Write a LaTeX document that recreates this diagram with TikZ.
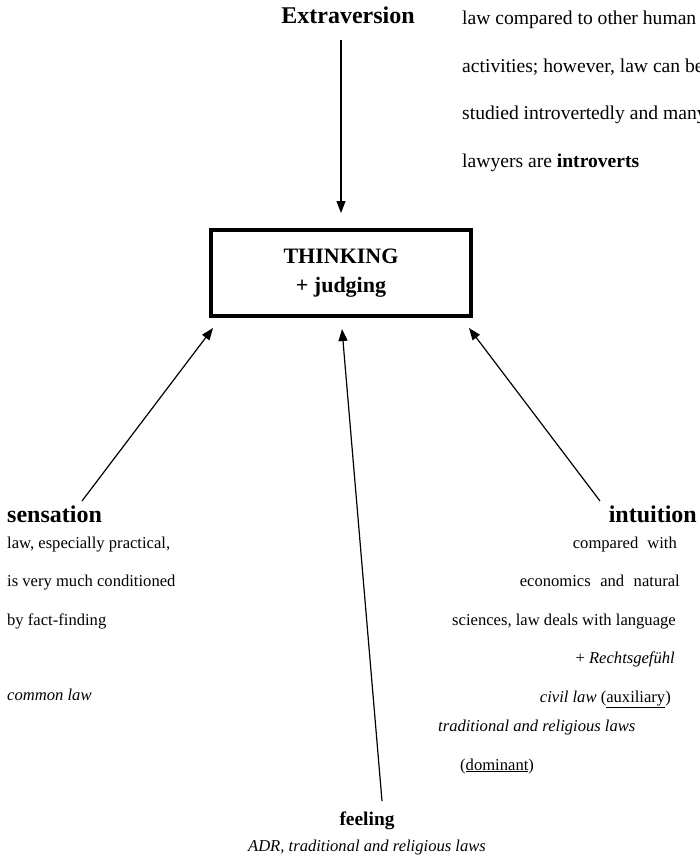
\documentclass[tikz,border=0pt]{standalone}
\usepackage{fontspec}
\setmainfont{Liberation Serif}
\usetikzlibrary{arrows.meta}
\tikzset{
  body/.style={font=\fontsize{16.6}{20}\selectfont, inner sep=0pt},
  topbody/.style={font=\fontsize{19.6}{23}\selectfont, inner sep=0pt},
  head/.style={font=\fontsize{24}{28}\selectfont\bfseries, inner sep=0pt},
  smallhead/.style={font=\fontsize{19.4}{23}\selectfont\bfseries, inner sep=0pt},
  arr/.style={line width=1.2pt, -{Triangle[length=12pt,width=9pt]}},
  mainbox/.style={draw, line width=4pt, minimum width=260pt, minimum height=86pt,
    align=center, font=\fontsize{22}{29}\selectfont\bfseries},
}
\begin{document}
\begin{tikzpicture}[x=1pt,y=-1pt]
\useasboundingbox (0,0) rectangle (699,859);
\clip (0,0) rectangle (699,859);

% central box
\node[mainbox] (box) at (341,273) {THINKING\\+ judging};

% Extraversion
\node[head, anchor=base] (ext) at (348,24) {Extraversion};
\node[topbody, anchor=base west] (t1) at (462,25) {law compared to other human};
\node[topbody, anchor=base west] (t2) at (462,72.3) {activities; however, law can be};
\node[topbody, anchor=base west] (t3) at (462,119.7) {studied introvertedly and many};
\node[topbody, anchor=base west] (t4) at (462,167) {lawyers are \textbf{introverts}};

% sensation
\node[head, anchor=base west] (sens) at (7,522) {sensation};
\node[body, anchor=base west] (s1) at (7,548) {law, especially practical,};
\node[body, anchor=base west] (s2) at (7,586) {is very much conditioned};
\node[body, anchor=base west] (s3) at (7,625) {by fact-finding};
\node[body, anchor=base west] (s4) at (7,700) {\itshape common law};

% intuition
\node[head, anchor=base east] (intu) at (697,522) {intuition};
\node[body, anchor=base east] (i1) at (677,548) {compared\hspace{9pt}with};
\node[body, anchor=base east] (i2) at (680,586) {economics\hspace{9.5pt}and\hspace{9.5pt}natural};
\node[body, anchor=base east] (i3) at (676,625) {sciences, law deals with language};
\node[body, anchor=base east] (i4) at (675,663) {+ \textit{Rechtsgefühl}};
\node[body, anchor=base east] (i5) at (671,702) {\textit{civil law} (\underline{auxiliary})};
\node[body, anchor=base west] (i6) at (438,731) {\itshape traditional and religious laws};
\node[body, anchor=base west] (i7) at (460,770) {(\underline{dominant})};

% feeling
\node[smallhead, anchor=base] (feel) at (367,825) {feeling};
\node[body, anchor=base] (f1) at (367,851) {\itshape ADR, traditional and religious laws};

% connector ends
\coordinate (extTail) at (341,40);
\coordinate (extTip) at (341,213);
\coordinate (sensTail) at (82,501);
\coordinate (sensTip) at (213,328);
\coordinate (feelTail) at (382,801);
\coordinate (feelTip) at (342,329);
\coordinate (intuTail) at (600,501);
\coordinate (intuTip) at (469,328);

\draw[arr] (extTail) -- (extTip);
\draw[arr] (sensTail) -- (sensTip);
\draw[arr] (feelTail) -- (feelTip);
\draw[arr] (intuTail) -- (intuTip);
\end{tikzpicture}
\end{document}
